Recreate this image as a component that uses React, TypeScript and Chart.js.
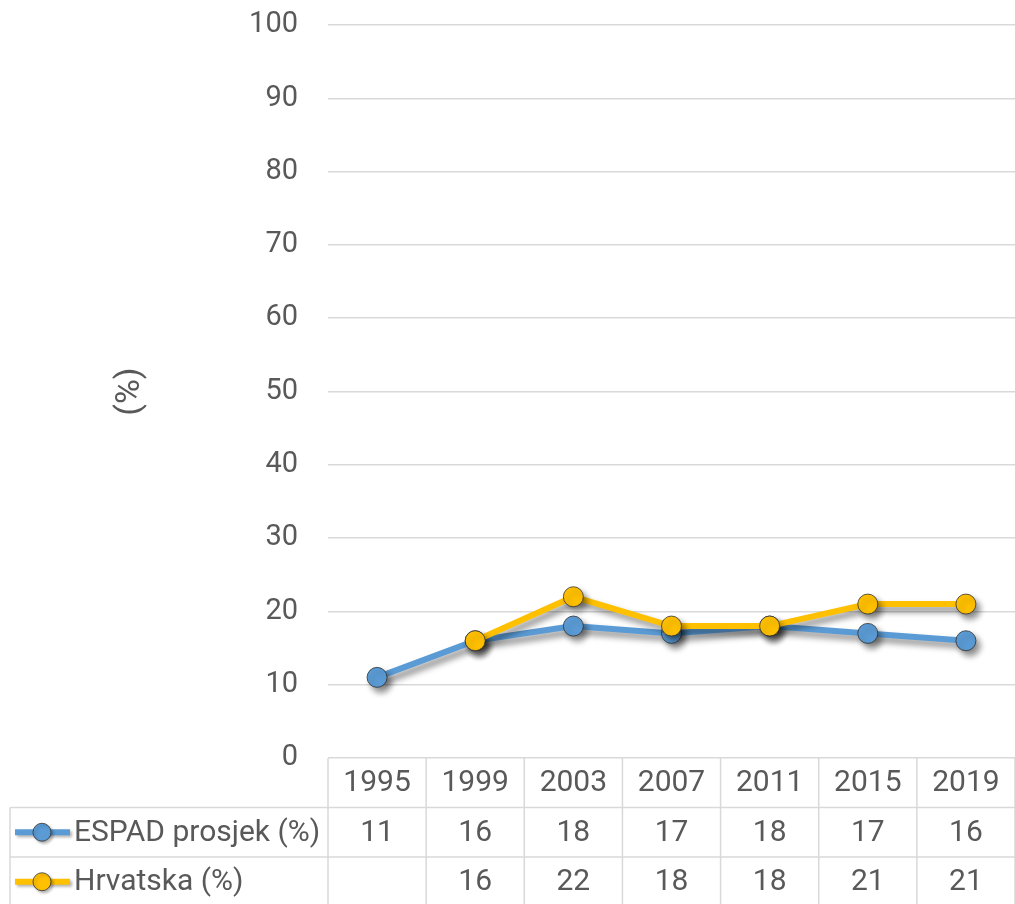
import React, { useEffect, useRef } from "react";
import { Chart, registerables } from "chart.js";

Chart.register(...registerables);

const years = ["1995", "1999", "2003", "2007", "2011", "2015", "2019"];
const espad: (number | null)[] = [11, 16, 18, 17, 18, 17, 16];
const hrvatska: (number | null)[] = [null, 16, 22, 18, 18, 21, 21];
const seriesNames = ["ESPAD prosjek (%)", "Hrvatska (%)"];
const yTitle = "(%)";

const BLUE = "#5B9BD5";
const YELLOW = "#FFC000";
const TEXT = "#595959";
const GRID = "#D9D9D9";
const FONT = "Roboto";

const shadowPlugin = {
  id: "shadowPlugin",
  beforeDatasetDraw(chart: any) {
    const ctx = chart.ctx;
    ctx.save();
    ctx.shadowColor = "rgba(0,0,0,0.45)";
    ctx.shadowBlur = 6;
    ctx.shadowOffsetX = 4;
    ctx.shadowOffsetY = 5;
  },
  afterDatasetDraw(chart: any) {
    chart.ctx.restore();
  },
};

const tablePlugin = {
  id: "tablePlugin",
  afterDraw(chart: any) {
    const ctx = chart.ctx;
    const area = chart.chartArea;
    const xs = chart.scales.x;
    const n = years.length;
    const colW = (area.right - area.left) / n;
    const top = area.bottom;
    const rowH = 49.5;
    const bottom = chart.height;
    const tableLeft = 10;
    ctx.save();
    ctx.strokeStyle = GRID;
    ctx.lineWidth = 1.5;
    for (let i = 0; i <= n; i++) {
      const x = area.left + i * colW;
      ctx.beginPath();
      ctx.moveTo(x, top);
      ctx.lineTo(x, bottom);
      ctx.stroke();
    }
    for (let r = 1; r <= 2; r++) {
      const y = top + r * rowH;
      ctx.beginPath();
      ctx.moveTo(tableLeft, y);
      ctx.lineTo(chart.width, y);
      ctx.stroke();
    }
    ctx.beginPath();
    ctx.moveTo(tableLeft, top + rowH);
    ctx.lineTo(tableLeft, bottom);
    ctx.stroke();

    ctx.fillStyle = TEXT;
    ctx.font = `30px ${FONT}`;
    ctx.textAlign = "center";
    ctx.textBaseline = "middle";
    years.forEach((y, i) => {
      ctx.fillText(y, xs.getPixelForValue(i), top + rowH / 2 + 1);
    });
    const rows = [espad, hrvatska];
    const colors = [BLUE, YELLOW];
    rows.forEach((vals, r) => {
      const cy = top + rowH * (r + 1) + rowH / 2;
      vals.forEach((v, i) => {
        if (v !== null) ctx.fillText(String(v), xs.getPixelForValue(i), cy + 1);
      });
      ctx.save();
      ctx.shadowColor = "rgba(0,0,0,0.3)";
      ctx.shadowBlur = 3;
      ctx.shadowOffsetX = 2;
      ctx.shadowOffsetY = 2;
      ctx.strokeStyle = colors[r];
      ctx.lineWidth = 6;
      ctx.beginPath();
      ctx.moveTo(15, cy);
      ctx.lineTo(70, cy);
      ctx.stroke();
      ctx.beginPath();
      ctx.arc(42, cy, 9, 0, Math.PI * 2);
      ctx.fillStyle = colors[r];
      ctx.fill();
      ctx.lineWidth = 1;
      ctx.strokeStyle = "rgba(50,50,50,0.8)";
      ctx.stroke();
      ctx.restore();
      ctx.fillStyle = TEXT;
      ctx.textAlign = "left";
      ctx.fillText(seriesNames[r], 74, cy + 1);
      ctx.textAlign = "center";
    });
    ctx.restore();
  },
};

export default function App() {
  const ref = useRef<HTMLCanvasElement>(null);
  useEffect(() => {
    const chart = new Chart(ref.current as HTMLCanvasElement, {
      type: "line",
      data: {
        labels: years,
        datasets: [
          {
            label: seriesNames[0],
            data: espad,
            borderColor: BLUE,
            backgroundColor: BLUE,
            borderWidth: 6,
            pointRadius: 10,
            pointBorderWidth: 1,
            pointBorderColor: "rgba(50,50,50,0.8)",
            pointBackgroundColor: BLUE,
            order: 2,
          },
          {
            label: seriesNames[1],
            data: hrvatska,
            borderColor: YELLOW,
            backgroundColor: YELLOW,
            borderWidth: 6,
            pointRadius: 10,
            pointBorderWidth: 1,
            pointBorderColor: "rgba(50,50,50,0.8)",
            pointBackgroundColor: YELLOW,
            order: 1,
          },
        ],
      },
      options: {
        animation: false,
        responsive: false,
        layout: { autoPadding: false, padding: { top: 25, left: 0, right: -3, bottom: 0 } },
        plugins: { legend: { display: false }, tooltip: { enabled: false } },
        scales: {
          x: {
            offset: true,
            ticks: { display: false },
            grid: { display: false },
            border: { display: false },
            afterFit: (s: any) => {
              s.height = 146;
            },
          },
          y: {
            min: 0,
            max: 100,
            ticks: {
              stepSize: 10,
              color: TEXT,
              font: { family: FONT, size: 29 },
              padding: 30,
            },
            grid: { color: GRID, lineWidth: 1.5, drawTicks: false },
            border: { display: false },
            title: {
              display: true,
              text: yTitle,
              color: TEXT,
              font: { family: FONT, size: 34 },
              padding: { top: 110, bottom: 0 },
            },
            afterFit: (s: any) => {
              s.width = 328;
              s.paddingTop = 0;
              s.paddingBottom = 0;
            },
          },
        },
      },
      plugins: [shadowPlugin, tablePlugin],
    });
    return () => chart.destroy();
  }, []);
  return (
    <div style={{ position: "absolute", left: 0, top: 0, width: 1015, height: 904 }}>
      <canvas ref={ref} width={1015} height={904} />
    </div>
  );
}
